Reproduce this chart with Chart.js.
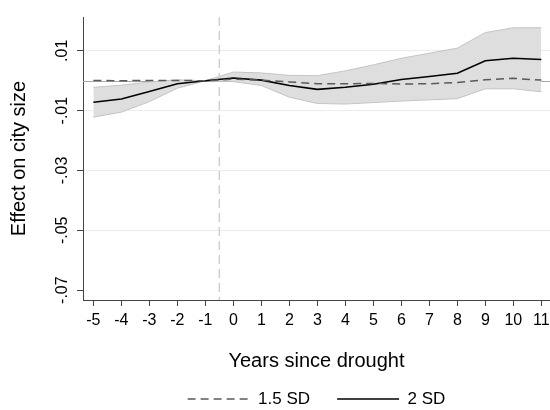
<!DOCTYPE html>
<html>
<head>
<meta charset="utf-8">
<script src="https://cdn.jsdelivr.net/npm/chart.js@4.4.1/dist/chart.umd.min.js"></script>
<style>
  html, body { margin: 0; padding: 0; background: #fff; }
  #wrap { width: 550px; height: 410px; }
</style>
</head>
<body>
<div id="wrap"><canvas id="droughtChart" width="550" height="410"></canvas></div>
<script>
// years relative to the drought
const years = [-5, -4, -3, -2, -1, 0, 1, 2, 3, 4, 5, 6, 7, 8, 9, 10, 11];

// point estimates
const sd15 = [0.0001, 0.0000, 0.0001, 0.0001, 0.0000, 0.0005, 0.0002, -0.0004, -0.0010, -0.0010, -0.0009, -0.0011, -0.0010, -0.0006, 0.0003, 0.0008, 0.0002];
const sd2 = [-0.0072, -0.0061, -0.0036, -0.0010, 0.0000, 0.0009, 0.0002, -0.0016, -0.0029, -0.0022, -0.0012, 0.0004, 0.0014, 0.0025, 0.0067, 0.0075, 0.0071];

// confidence band for the 2 SD estimate
const sd2Upper = [-0.0022, -0.0015, -0.0004, 0.0003, 0.0000, 0.0029, 0.0026, 0.0018, 0.0017, 0.0033, 0.0053, 0.0075, 0.0092, 0.0109, 0.0161, 0.0177, 0.0177];
const sd2Lower = [-0.0122, -0.0105, -0.0070, -0.0025, 0.0000, -0.0003, -0.0016, -0.0055, -0.0076, -0.0078, -0.0073, -0.0068, -0.0064, -0.0060, -0.0027, -0.0027, -0.0037];

// axes
const xTickLabels = years.map(String);
const yTicks = [-0.07, -0.05, -0.03, -0.01, 0.01];
const yTickLabels = ['-.07', '-.05', '-.03', '-.01', '.01'];
const xRange = [-5.37, 11.31];
const yRange = [-0.0733, 0.0213];

// reference lines
const droughtYear = -0.5;
const baseline = 0;

const FONT = "'Liberation Sans', Arial, Helvetica, sans-serif";

const refLines = {
    id: "refLines",
    beforeDatasetsDraw(chart) {
        const { ctx, chartArea: area, scales: { x, y } } = chart;
        ctx.save();
        ctx.lineWidth = 1;
        ctx.strokeStyle = "#a8a8a8";
        const y0 = Math.round(y.getPixelForValue(baseline)) + 0.5;
        ctx.beginPath();
        ctx.moveTo(area.left, y0);
        ctx.lineTo(area.right, y0);
        ctx.stroke();

        const xd = x.getPixelForValue(droughtYear);
        ctx.strokeStyle = "#cfcfcf";
        ctx.lineWidth = 1.5;
        ctx.setLineDash([9, 5]);
        ctx.beginPath();
        ctx.moveTo(xd, area.top);
        ctx.lineTo(xd, area.bottom);
        ctx.stroke();
        ctx.restore();
    }
};

// legend entries only for the two estimate lines, drawn with their own dash
function legendLabels(chart) {
    return chart.data.datasets.slice(0, 2).map((ds, i) => ({
        text: ds.label,
        datasetIndex: i,
        strokeStyle: ds.borderColor,
        fillStyle: ds.borderColor,
        lineWidth: ds.borderWidth,
        lineDash: ds.borderDash || [],
        pointStyle: "line",
        fontColor: "#000",
        hidden: false
    }));
}

new Chart(document.getElementById("droughtChart"), {
    type: "line",
    data: {
        labels: years,
        datasets: [
            {
                label: "1.5 SD",
                data: sd15,
                borderColor: "#5a5a5a",
                borderWidth: 1.5,
                borderDash: [8, 5],
                pointRadius: 0,
                fill: false
            },
            {
                label: "2 SD",
                data: sd2,
                borderColor: "#000000",
                borderWidth: 1.6,
                pointRadius: 0,
                fill: false
            },
            {
                label: "lower",
                data: sd2Lower,
                borderColor: "#c4c4c4",
                borderWidth: 1,
                pointRadius: 0,
                fill: false
            },
            {
                label: "upper",
                data: sd2Upper,
                borderColor: "#c4c4c4",
                borderWidth: 1,
                backgroundColor: "#dedede",
                pointRadius: 0,
                fill: "-1"
            }
        ]
    },
    options: {
        responsive: false,
        animation: false,
        events: [],
        layout: { padding: { top: 17, right: 0, left: 0, bottom: -7.5 } },
        plugins: {
            tooltip: { enabled: false },
            legend: {
                position: "bottom",
                fullSize: false,
                labels: {
                    usePointStyle: true,
                    pointStyleWidth: 62,
                    boxHeight: 17,
                    padding: 27,
                    color: "#000",
                    font: { size: 17, family: FONT },
                    generateLabels: legendLabels
                }
            }
        },
        scales: {
            x: {
                type: "linear",
                min: xRange[0],
                max: xRange[1],
                afterBuildTicks: s => { s.ticks = years.map(v => ({ value: v })); },
                afterFit: s => { s.height = 63.5; s.paddingLeft = 0; s.paddingRight = 0; },
                grid: { drawOnChartArea: false, tickLength: 6, tickColor: "#444", tickWidth: 1 },
                border: { color: "#444", width: 1 },
                ticks: {
                    padding: 5,
                    color: "#000",
                    autoSkip: false,
                    maxRotation: 0,
                    font: { size: 16, family: FONT },
                    callback: (v, i) => xTickLabels[i]
                },
                title: {
                    display: true,
                    text: "Years since drought",
                    color: "#000",
                    font: { size: 20, family: FONT, lineHeight: 1 },
                    padding: { top: 0, bottom: -8.3 }
                }
            },
            y: {
                min: yRange[0],
                max: yRange[1],
                afterBuildTicks: s => { s.ticks = yTicks.map(v => ({ value: v })); },
                afterFit: s => { s.width = 83; s.paddingTop = 0; s.paddingBottom = 0; },
                grid: {
                    color: c => (c.tick && c.tick.value === yTicks[0]) ? "rgba(0,0,0,0)" : "#e6eef0",
                    lineWidth: 1,
                    tickLength: 6,
                    tickColor: "#444"
                },
                border: { color: "#444", width: 1 },
                ticks: {
                    padding: 1,
                    crossAlign: "center",
                    minRotation: 90,
                    maxRotation: 90,
                    color: "#000",
                    font: { size: 16, family: FONT },
                    callback: (v, i) => yTickLabels[i]
                },
                title: {
                    display: true,
                    text: "Effect on city size",
                    color: "#000",
                    font: { size: 20, family: FONT, lineHeight: 1 },
                    padding: { top: 9.8, bottom: 0 }
                }
            }
        }
    },
    plugins: [refLines]
});
</script>
</body>
</html>
